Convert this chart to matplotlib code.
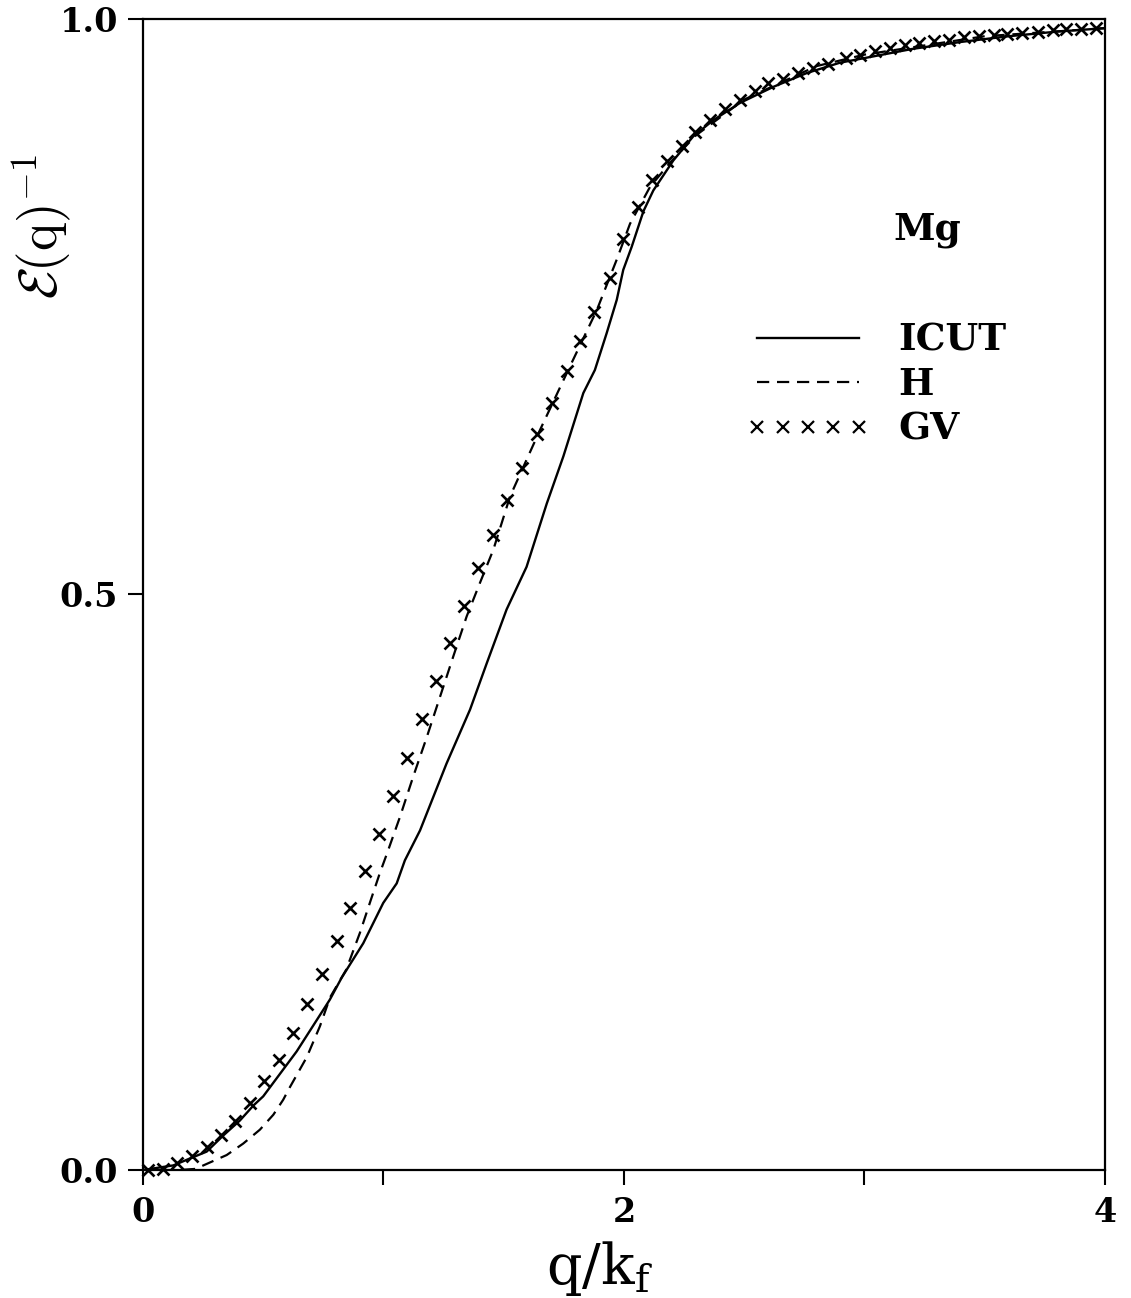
import matplotlib
matplotlib.use("Agg")
import matplotlib.pyplot as plt

# ---- data ----
q_gv = [0.022, 0.084, 0.140, 0.202, 0.265, 0.323, 0.383, 0.445, 0.504, 0.565,
        0.622, 0.683, 0.743, 0.805, 0.861, 0.923, 0.981, 1.041, 1.096, 1.160,
        1.217, 1.278, 1.335, 1.395, 1.454, 1.515, 1.575, 1.637, 1.699, 1.762,
        1.817, 1.875, 1.942, 1.997, 2.059, 2.118, 2.178, 2.240, 2.295, 2.358,
        2.420, 2.482, 2.545, 2.600, 2.662, 2.725, 2.787, 2.850, 2.923, 2.980,
        3.043, 3.106, 3.168, 3.225, 3.287, 3.350, 3.413, 3.476, 3.538, 3.594,
        3.657, 3.720, 3.783, 3.838, 3.900, 3.963]
v_gv = [0.000, 0.001, 0.006, 0.012, 0.020, 0.030, 0.043, 0.058, 0.077, 0.096,
        0.119, 0.144, 0.170, 0.199, 0.228, 0.260, 0.292, 0.325, 0.358, 0.392,
        0.425, 0.458, 0.490, 0.523, 0.552, 0.582, 0.610, 0.639, 0.666, 0.694,
        0.720, 0.745, 0.775, 0.809, 0.837, 0.860, 0.877, 0.890, 0.902, 0.912,
        0.922, 0.930, 0.937, 0.944, 0.948, 0.953, 0.957, 0.961, 0.966, 0.969,
        0.972, 0.975, 0.977, 0.979, 0.981, 0.982, 0.984, 0.985, 0.986, 0.987,
        0.988, 0.989, 0.990, 0.991, 0.991, 0.992]

q_icut = [0.0, 0.126, 0.195, 0.265, 0.334, 0.403, 0.459, 0.500, 0.639, 0.777,
          0.826, 0.916, 0.999, 1.055, 1.089, 1.152, 1.262, 1.360, 1.429, 1.512,
          1.595, 1.679, 1.748, 1.831, 1.879, 1.928, 1.970, 1.997, 2.032, 2.081,
          2.122, 2.205, 2.288, 2.371, 2.482, 2.621, 2.760, 2.898, 3.0, 3.2,
          3.4, 3.6, 3.8, 4.0]
v_icut = [0.0, 0.004, 0.010, 0.016, 0.030, 0.043, 0.056, 0.064, 0.103, 0.148,
          0.167, 0.197, 0.232, 0.249, 0.269, 0.295, 0.353, 0.400, 0.440, 0.487,
          0.524, 0.579, 0.620, 0.675, 0.695, 0.727, 0.756, 0.782, 0.802, 0.833,
          0.851, 0.877, 0.898, 0.912, 0.927, 0.941, 0.953, 0.962, 0.966, 0.974,
          0.980, 0.985, 0.989, 0.992]

q_h = [0.0, 0.15, 0.22, 0.251, 0.348, 0.417, 0.486, 0.542, 0.583, 0.611,
       0.681, 0.736, 0.778, 0.845, 0.902, 0.948, 0.985, 1.013, 1.069, 1.124,
       1.180, 1.235, 1.290, 1.346, 1.401, 1.457, 1.526, 1.651, 1.775, 1.887,
       1.970, 2.025, 2.108, 2.191, 2.3, 2.5, 2.8, 3.0, 3.5, 4.0]
v_h = [0.0, 0.0, 0.001, 0.004, 0.013, 0.023, 0.035, 0.048, 0.061, 0.072,
       0.098, 0.125, 0.150, 0.174, 0.206, 0.235, 0.258, 0.274, 0.307, 0.342,
       0.376, 0.411, 0.446, 0.481, 0.510, 0.539, 0.585, 0.643, 0.698, 0.747,
       0.791, 0.822, 0.854, 0.875, 0.899, 0.930, 0.959, 0.969, 0.985, 0.992]

x_ticks = [0, 1, 2, 3, 4]
x_ticklabels = ["0", "", "2", "", "4"]
y_ticks = [0.0, 0.5, 1.0]
y_ticklabels = ["0.0", "0.5", "1.0"]
series_labels = ["ICUT", "H", "GV"]
element = "Mg"

# ---- figure ----
plt.rcParams['font.family'] = ['DejaVu Serif']
plt.rcParams['mathtext.fontset'] = 'dejavuserif'

fig = plt.figure(figsize=(11.31, 12.98), dpi=100)
ax = fig.add_axes([0.1264, 0.0986, 0.8506, 0.8868])

l1, = ax.plot(q_icut, v_icut, color='black', lw=1.7, linestyle='-')
l2, = ax.plot(q_h, v_h, color='black', lw=1.6, linestyle=(0, (5.5, 3.5)))
l3, = ax.plot(q_gv, v_gv, color='black', lw=0, marker='x', markersize=9,
              markeredgewidth=1.9, clip_on=False)

ax.set_xlim(0, 4)
ax.set_ylim(0, 1)
ax.set_xticks(x_ticks)
ax.set_xticklabels(x_ticklabels)
ax.set_yticks(y_ticks)
ax.set_yticklabels(y_ticklabels)
ax.tick_params(direction='out', length=11, width=1.5, labelsize=24, pad=7)
ax.tick_params(axis='x', pad=8)
for lab in ax.get_xticklabels() + ax.get_yticklabels():
    lab.set_fontweight('bold')
for s in ax.spines.values():
    s.set_linewidth(1.6)

ax.set_xlabel(r'q/k$_\mathrm{f}$', fontsize=40)
ax.xaxis.set_label_coords(0.475, -0.06)
ax.set_ylabel(r'$\mathcal{E}\mathrm{(q)}^{-1}$', fontsize=38,
              math_fontfamily='cm')
ax.yaxis.set_label_coords(-0.072, 0.82)

ax.text(0.78, 0.817, element, transform=ax.transAxes, fontsize=27,
        fontweight='bold', ha='left', va='center')

leg = ax.legend([l1, l2, l3], series_labels, loc='upper left',
                bbox_to_anchor=(0.627, 0.737), frameon=False,
                prop={'size': 27, 'weight': 'bold'}, numpoints=5,
                handlelength=3.3, handletextpad=0.75, labelspacing=0.2,
                borderpad=0, borderaxespad=0)
for h in leg.legend_handles:
    if h.get_marker() == 'x':
        h.set_markersize(8)
        h.set_markeredgewidth(1.6)

fig.savefig('out.png', dpi=100)
